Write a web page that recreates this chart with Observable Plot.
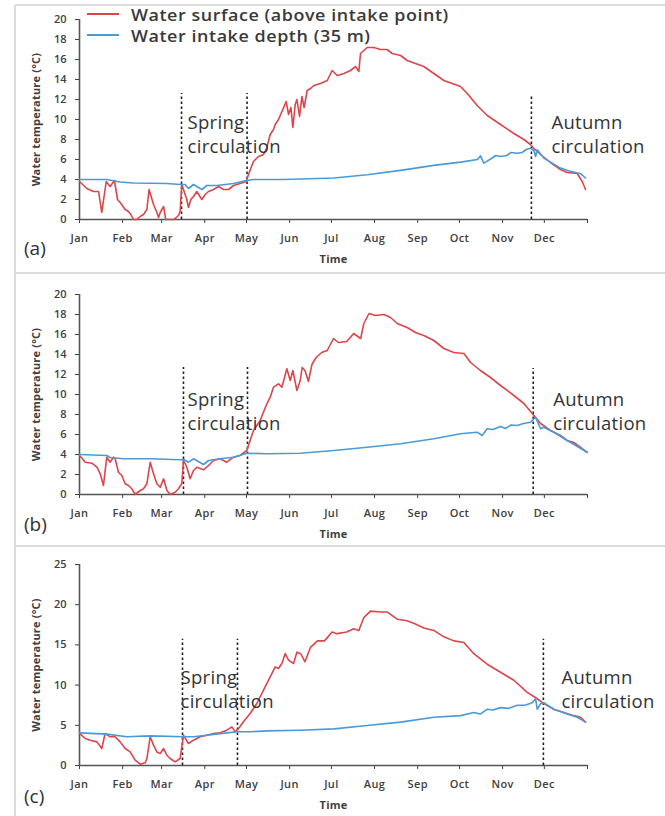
<!DOCTYPE html>
<html><head><meta charset="utf-8">
<script src="https://cdn.jsdelivr.net/npm/d3@7"></script>
<script src="https://cdn.jsdelivr.net/npm/@observablehq/plot@0.6"></script>
<style>
body{margin:0;background:#fff;}
#page{position:relative;width:665px;height:816px;overflow:hidden;background:#fff;font-family:"Open Sans",Lato,sans-serif;}
.hline{position:absolute;left:15px;right:0;height:0;border-top:2px solid #dcdcdc;}
.vline{position:absolute;left:14px;top:5px;bottom:0;width:0;border-left:2px solid #dcdcdc;}
.plot{position:absolute;left:0;}
.plabel{position:absolute;left:24px;font-size:19px;color:#303030;line-height:1;}
.swatch{position:absolute;left:87px;width:32px;height:2px;}
.legend{position:absolute;left:131px;font-size:16px;font-weight:600;color:#3a3a3a;line-height:1;white-space:nowrap;
        letter-spacing:0.5px;transform:scaleX(1.12);transform-origin:0 50%;}
svg text{font-family:"Open Sans",Lato,sans-serif;}
g[aria-label="x-axis tick label"] text, g[aria-label="y-axis tick label"] text{font-weight:600;}
g[aria-label="x-axis tick label"] text{letter-spacing:0.4px;}
g[aria-label="x-axis label"] text, g[aria-label="y-axis label"] text{font-weight:bold;letter-spacing:0.2px;}
g[aria-label="text"] text{letter-spacing:0.3px;}
</style>
</head><body>
<div id="page">
  <div class="vline"></div>
  <div class="hline" style="top:4px"></div>
  <div class="hline" style="top:272px"></div>
  <div class="hline" style="top:545px"></div>
</div>
<script>
// ---- data (day of year, °C) ----
const monthStarts = [0,31,59,90,120,151,181,212,243,273,304,334,365];
const monthLabels = ["Jan","Feb","Mar","Apr","May","Jun","Jul","Aug","Sep","Oct","Nov","Dec",""];
const seriesNames = ["Water surface (above intake point)", "Water intake depth (35 m)"];
const panelLabels = ["(a)", "(b)", "(c)"];
const noteLabels = ["Spring\ncirculation", "Autumn\ncirculation"];

const surfaceA = [[0,3.8],[5.3,3.1],[10,2.8],[13.7,2.8],[16,0.7],[19.2,3.8],[22,3.3],[25.1,3.9],[27.3,2.0],[29.2,1.7],[32.8,1.0],[35.2,0.8],[36.9,0.5],[38.8,0],[41.2,0],[43.6,0.3],[46,0.5],[48.4,1.0],[50,3.0],[53.2,1.5],[55.6,0.7],[56.8,0.2],[58,0.7],[60.4,1.3],[62,0],[67.5,0],[68.7,0.1],[71.1,0.4],[72.3,0.8],[73.5,3.5],[75.9,2.5],[77.1,2.0],[78.3,1.2],[80,2.0],[81.9,2.3],[84.3,2.8],[87.9,2.0],[90.3,2.5],[92.7,2.8],[96.3,3.0],[99.9,3.3],[103.5,3.0],[107.1,3.0],[110.7,3.4],[115.4,3.6],[119.8,3.8],[121.4,4.5],[125,5.8],[128.6,6.3],[132.2,6.5],[134.6,7.2],[137,8.5],[139.4,9.0],[140.6,9.5],[143,10.0],[148.5,11.8],[150.2,10.5],[151.9,11.2],[153.3,9.2],[155,11.5],[156.2,12.0],[158.1,10.3],[159.8,12.3],[161.4,11.2],[163.6,12.9],[166,13.1],[168.4,13.4],[173.2,13.6],[178,13.9],[181.5,14.9],[185.2,14.4],[190,14.6],[194.7,14.9],[198.3,15.3],[200.7,14.8],[201.9,16.6],[206.7,17.2],[211.5,17.2],[216.3,17.0],[221,17.0],[224.7,16.6],[230.7,16.4],[235.4,15.9],[241.4,15.6],[247.4,15.3],[254.6,14.6],[261.8,13.9],[267.8,13.6],[273.8,13.3],[278.6,12.6],[285.7,11.4],[293,10.4],[302.5,9.5],[312.1,8.6],[319.3,8.0],[324,7.5],[326.5,7.1],[331.3,6.5],[338.4,5.7],[345.6,5.0],[350.4,4.7],[357.6,4.6],[361.2,3.8],[363.6,3.0]];
const intakeA = [[0,4.0],[19.6,4.0],[29,3.75],[38.8,3.65],[62.8,3.6],[72.3,3.5],[75.9,3.5],[78.3,3.1],[81.9,3.5],[87.9,3.0],[91.5,3.4],[98.7,3.4],[110.7,3.6],[119.8,3.9],[125,4.0],[146.6,4.0],[182.8,4.15],[206.7,4.48],[230.7,4.91],[254.6,5.41],[273.8,5.74],[286,6.0],[288.1,6.37],[290.5,5.64],[296,6.1],[299,6.4],[302.5,6.3],[307,6.4],[310,6.7],[314.5,6.63],[318,6.7],[321,7.0],[324,7.13],[326.5,6.9],[327.7,6.3],[328.9,6.97],[333.6,6.14],[345.6,5.14],[352.8,4.81],[360,4.58],[363.6,4.15]];
const circA = [{day:73.3, top:12.6},{day:120.4, top:12.6},{day:324.7, top:12.4}];

const surfaceB = [[0,3.9],[2,3.6],[4.1,3.23],[8.9,3.13],[12.5,2.73],[14.9,2.07],[17.2,0.9],[19.6,3.73],[22,3.23],[24.4,3.73],[25.6,3.57],[28,2.23],[30.4,1.9],[32.8,1.07],[35.2,0.9],[37.6,0.57],[40,0],[43.6,0.4],[46,0.57],[48.4,1.07],[50.8,3.23],[53.2,2.07],[55.6,1.07],[58,0.73],[60.4,1.57],[62.8,0.4],[65.1,0],[68.7,0.23],[71.1,0.57],[73.5,1.07],[74.7,3.4],[77.1,2.73],[79.5,1.57],[81.9,2.4],[84.3,2.73],[89.1,2.47],[92.7,2.9],[96.3,3.4],[101.1,3.57],[105.8,3.23],[110.7,3.73],[115.4,3.9],[120.2,4.4],[122.6,5.4],[125,6.4],[129.8,7.4],[134.6,9.07],[137,9.73],[139.4,10.73],[143,11.07],[145.4,10.73],[149,12.57],[151.4,11.4],[153.3,12.4],[156.2,10.4],[158.6,11.4],[160,12.7],[162,12.4],[164.5,11.3],[167,13.0],[170,13.7],[174,14.2],[178,14.4],[182.5,15.6],[186,15.2],[192,15.3],[197,16.1],[202,15.6],[204.3,17.1],[208,18.1],[212.7,17.9],[218.7,18.0],[223.5,17.7],[228.3,17.1],[235.4,16.7],[241.4,16.2],[247.4,15.9],[254.6,15.4],[261.8,14.6],[269,14.2],[276.2,14.1],[281,13.2],[288.1,12.4],[295.3,11.7],[302.5,10.9],[312.1,9.9],[319.3,9.1],[326.5,7.9],[331.3,7.1],[338.4,6.4],[345.6,5.9],[350.4,5.4],[355.2,5.2],[360,4.7],[364.8,4.2]];
const intakeB = [[0,4.0],[19.6,3.9],[22,3.7],[31.6,3.57],[50.8,3.57],[72.3,3.47],[75,3.5],[78.3,3.23],[81.9,3.57],[89.1,3.0],[92.7,3.4],[101.1,3.57],[110.7,3.73],[120.2,4.13],[134.6,4.07],[158.6,4.13],[182.8,4.4],[206.7,4.73],[230.7,5.07],[254.6,5.57],[273.8,6.07],[285.7,6.23],[289.3,5.9],[292.9,6.57],[297,6.5],[302.5,6.8],[306,6.6],[310,6.95],[314.5,6.9],[319,7.1],[324,7.23],[327.7,7.73],[331.3,6.57],[333.6,6.73],[340.8,6.23],[350.4,5.4],[364.8,4.23]];
const circB = [{day:74.7, top:12.7},{day:120.7, top:12.7},{day:326, top:12.6}];

const surfaceC = [[0,4.0],[4.1,3.36],[7.7,3.15],[12.5,2.94],[16,2.11],[18.4,3.98],[22,3.57],[25.6,3.57],[29.2,2.94],[32.8,2.11],[36.4,1.69],[40,0.66],[43.6,0.17],[47.2,0.33],[48.4,0.87],[50.8,3.57],[53.2,2.53],[55.6,1.69],[58,1.49],[60.4,2.11],[62.8,1.28],[65.1,0.87],[68.7,0.46],[72.3,0.87],[74.7,3.77],[78.3,2.74],[81.9,3.15],[86.7,3.57],[91.5,3.77],[96.3,3.98],[101.1,4.06],[105.8,4.39],[109.5,4.81],[111.9,4.19],[114.3,4.6],[117.8,5.43],[122.6,6.47],[127.4,7.71],[132.2,9.37],[137,11.03],[140.6,12.27],[143,12.06],[145.4,12.69],[147.8,13.93],[150.2,13.1],[153.8,12.69],[156.2,14.1],[159,13.9],[162,12.9],[166,14.7],[171,15.5],[176,15.5],[181.5,16.6],[185,16.4],[192,16.6],[197,17.0],[200.7,16.8],[204.3,18.4],[209,19.2],[216.3,19.1],[221,19.1],[228.3,18.2],[235.4,18.0],[241.4,17.6],[247.4,17.1],[254.6,16.8],[261.8,16.0],[269,15.5],[276.2,15.3],[283.3,13.9],[292.9,12.6],[302.5,11.6],[312.1,10.6],[321.7,9.1],[328.9,8.3],[333.6,7.7],[340.8,7.0],[348,6.6],[355.2,6.2],[360,6.0],[363.6,5.4]];
const intakeC = [[0,4.06],[19.6,3.9],[34,3.57],[50.8,3.69],[74.7,3.57],[81.9,3.57],[91.5,3.77],[105.8,4.06],[113,4.19],[122.6,4.19],[134.6,4.31],[158.6,4.39],[182.8,4.56],[206.7,4.98],[230.7,5.39],[254.6,6.0],[273.8,6.2],[283.4,6.6],[288,6.4],[292.9,7.0],[297,6.9],[302.5,7.2],[308,7.1],[314.5,7.5],[320,7.5],[325.3,7.8],[327.7,8.3],[328.9,7.0],[331.3,7.7],[333.6,7.8],[340.8,7.0],[350.4,6.4],[357.6,6.0],[363.6,5.4]];
const circC = [{day:74, top:15.7},{day:113.5, top:15.7},{day:333.3, top:15.7}];

const yTicksAB = [0,2,4,6,8,10,12,14,16,18,20];
const yTicksC = [0,5,10,15,20,25];

// ---- styles ----
const RED = "#dc464b", BLUE = "#4a9ad8", INK = "#404040";

function panel({surface, intake, circ, yMax, yTicks, top, marginTop, springDx, autumnDx, noteY}) {
  const chart = Plot.plot({
    width: 665, height: 270,
    marginLeft: 79, marginRight: 78, marginTop, marginBottom: 51,
    style: {fontSize: "11px", color: INK, background: "transparent"},
    x: {domain: [0, 365]},
    y: {domain: [0, yMax]},
    marks: [
      Plot.axisY({ticks: yTicks, tickSize: 4, tickPadding: 9, label: "Water temperature (°C)",
                  labelAnchor: "center", labelOffset: 47, labelArrow: "none", fill: INK, fontSize: 11}),
      Plot.axisX({ticks: monthStarts, tickFormat: d => monthLabels[monthStarts.indexOf(d)], tickSize: 4, tickPadding: 11,
                  label: "Time", labelAnchor: "center", labelOffset: 43, labelArrow: "none", fill: INK, fontSize: 11}),
      Plot.ruleX([0], {stroke: "#555", strokeWidth: 1.6}),
      Plot.ruleY([0], {stroke: "#555", strokeWidth: 1.6}),
      Plot.ruleX(circ, {x: "day", y1: 0, y2: "top", stroke: "#222", strokeWidth: 1.6, strokeDasharray: "2.5,2.5"}),
      Plot.line(surface, {x: d => d[0], y: d => d[1], stroke: RED, strokeWidth: 1.6}),
      Plot.line(intake, {x: d => d[0], y: d => d[1], stroke: BLUE, strokeWidth: 1.6}),
      Plot.text([noteLabels[0]], {x: circ[0].day, y: noteY, text: d => d, dx: springDx, textAnchor: "start",
                  lineAnchor: "middle", lineHeight: 1.27, fontSize: 18.5, fill: "#333"}),
      Plot.text([noteLabels[1]], {x: circ[2].day, y: noteY, text: d => d, dx: autumnDx, textAnchor: "start",
                  lineAnchor: "middle", lineHeight: 1.27, fontSize: 18.5, fill: "#333"})
    ]
  });
  chart.classList.add("plot");
  chart.style.top = top + "px";
  return chart;
}

const page = document.getElementById("page");
page.appendChild(panel({surface: surfaceA, intake: intakeA, circ: circA, yMax: 20, yTicks: yTicksAB, top: 0, marginTop: 19, springDx: 6, autumnDx: 20, noteY: 8.6}));
page.appendChild(panel({surface: surfaceB, intake: intakeB, circ: circB, yMax: 20, yTicks: yTicksAB, top: 275, marginTop: 19, springDx: 4, autumnDx: 20, noteY: 8.4}));
page.appendChild(panel({surface: surfaceC, intake: intakeC, circ: circC, yMax: 25, yTicks: yTicksC, top: 546, marginTop: 18, springDx: -2, autumnDx: 18, noteY: 9.6}));

// panel labels
[[panelLabels[0], 239], [panelLabels[1], 515], [panelLabels[2], 787]].forEach(([t, y]) => {
  const d = document.createElement("div"); d.className = "plabel"; d.textContent = t; d.style.top = y + "px"; page.appendChild(d);
});
// legend
[[seriesNames[0], RED, 14, 7], [seriesNames[1], BLUE, 35, 28]].forEach(([t, c, sy, ty]) => {
  const s = document.createElement("div"); s.className = "swatch"; s.style.background = c; s.style.top = (sy - 1) + "px";
  page.appendChild(s);
  const d = document.createElement("div"); d.className = "legend"; d.style.top = ty + "px"; d.textContent = t;
  page.appendChild(d);
});
</script>
</body></html>
